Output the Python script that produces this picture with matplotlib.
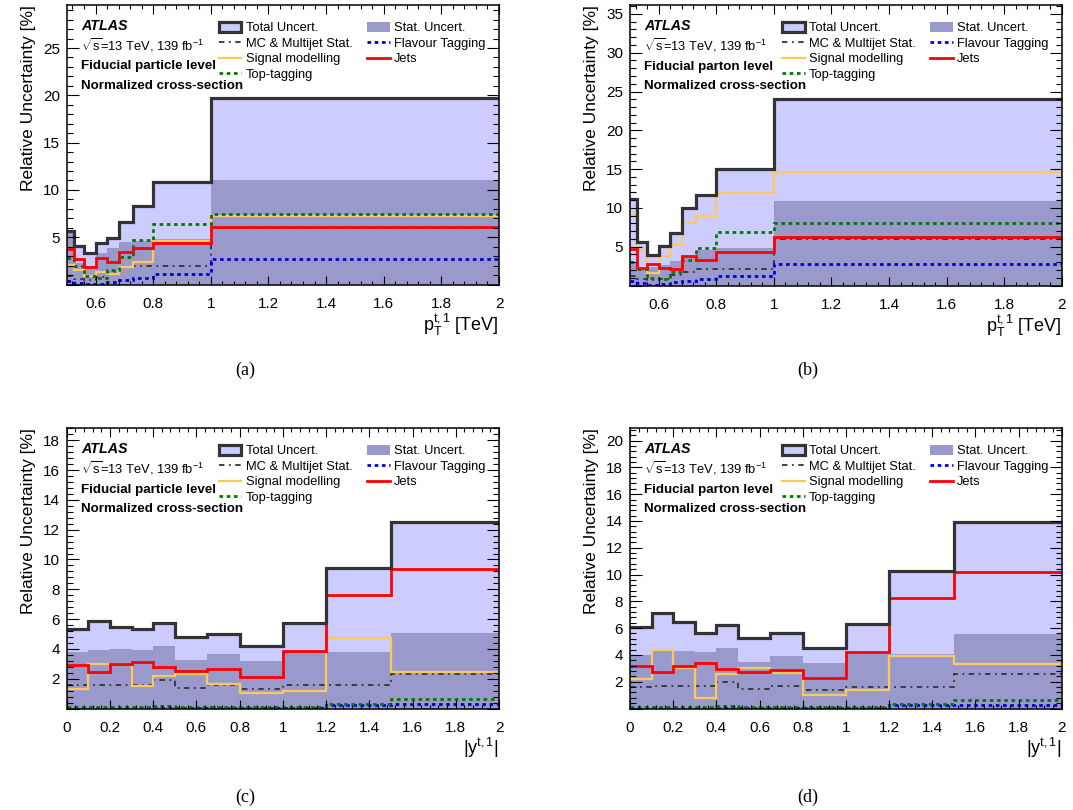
import matplotlib
matplotlib.use('Agg')
import matplotlib.pyplot as plt
from matplotlib.ticker import MultipleLocator, FuncFormatter
from matplotlib.patches import Patch
from matplotlib.lines import Line2D

plt.rcParams['font.family'] = ['Liberation Sans', 'DejaVu Sans']
plt.rcParams['mathtext.fontset'] = 'custom'
plt.rcParams['mathtext.rm'] = 'Liberation Sans'
plt.rcParams['mathtext.it'] = 'Liberation Sans:italic'
plt.rcParams['mathtext.bf'] = 'Liberation Sans:bold'

# ---------------- data ----------------
pt_edges = [0.5, 0.525, 0.56, 0.6, 0.64, 0.68, 0.73, 0.8, 1.0, 2.0]
y_edges = [0, 0.1, 0.2, 0.3, 0.4, 0.5, 0.65, 0.8, 1.0, 1.2, 1.5, 2.0]

a_total = [5.7, 4.05, 3.35, 4.4, 4.9, 6.6, 8.35, 10.8, 19.7]
a_stat = [5.4, 2.3, 2.0, 3.3, 3.9, 4.5, 4.6, 4.8, 11.1]
a_mc = [0.9, 0.6, 0.5, 0.8, 1.3, 1.8, 2.0, 2.0, 6.0]
a_signal = [2.05, 1.5, 0.9, 1.35, 1.15, 1.9, 2.4, 4.6, 7.25]
a_toptag = [2.8, 2.0, 0.9, 0.7, 1.5, 2.95, 4.7, 6.35, 7.5]
a_flavour = [0.4, 0.2, 0.05, 0.1, 0.3, 0.5, 0.65, 1.1, 2.7]
a_jets = [3.75, 2.7, 1.9, 2.85, 2.35, 3.45, 3.9, 4.4, 6.1]

b_total = [11.2, 5.55, 3.9, 5.05, 6.8, 10.0, 11.6, 15.0, 24.1]
b_stat = [2.9, 2.3, 2.4, 2.7, 3.2, 3.8, 4.6, 4.8, 10.9]
b_mc = [1.2, 0.8, 0.7, 0.9, 1.3, 1.8, 2.1, 2.1, 6.0]
b_signal = [9.1, 4.6, 1.65, 3.75, 5.25, 8.1, 9.0, 11.9, 14.6]
b_toptag = [3.0, 2.15, 1.0, 0.85, 1.8, 3.3, 4.85, 6.9, 8.0]
b_flavour = [0.55, 0.3, 0.1, 0.2, 0.4, 0.6, 0.85, 1.2, 2.8]
b_jets = [4.7, 2.2, 2.75, 2.3, 2.1, 3.75, 3.3, 4.35, 6.2]

c_total = [5.33, 5.85, 5.45, 5.36, 5.71, 4.77, 5.03, 4.21, 5.77, 9.44, 12.55]
c_stat = [3.77, 3.9, 4.0, 3.93, 4.2, 3.26, 3.66, 3.2, 3.88, 3.77, 5.09]
c_mc = [1.55, 1.6, 1.6, 1.55, 1.9, 1.4, 1.55, 1.3, 1.55, 1.55, 2.3]
c_signal = [1.34, 2.97, 2.97, 1.52, 2.19, 2.34, 1.65, 1.03, 1.18, 4.7, 2.43]
c_toptag = [0.1, 0.1, 0.1, 0.1, 0.15, 0.1, 0.1, 0.1, 0.1, 0.3, 0.65]
c_flavour = [0.05, 0.05, 0.05, 0.05, 0.05, 0.05, 0.05, 0.05, 0.05, 0.25, 0.3]
c_jets = [2.92, 2.48, 2.99, 3.13, 2.77, 2.54, 2.68, 2.14, 3.88, 7.6, 9.33]

d_total = [6.07, 7.14, 6.49, 5.64, 6.26, 5.24, 5.64, 4.52, 6.31, 10.3, 13.96]
d_stat = [4.02, 4.32, 4.27, 4.22, 4.5, 3.5, 3.92, 3.42, 4.07, 4.07, 5.57]
d_mc = [1.58, 1.7, 1.7, 1.7, 2.0, 1.46, 1.68, 1.4, 1.63, 1.63, 2.58]
d_signal = [2.2, 4.4, 3.03, 0.76, 2.58, 3.05, 2.65, 1.0, 1.38, 3.92, 3.3]
d_toptag = [0.1, 0.1, 0.1, 0.1, 0.15, 0.1, 0.1, 0.1, 0.1, 0.3, 0.65]
d_flavour = [0.05, 0.05, 0.05, 0.05, 0.05, 0.05, 0.05, 0.05, 0.05, 0.25, 0.27]
d_jets = [3.15, 2.7, 3.2, 3.37, 2.98, 2.75, 2.88, 2.3, 4.2, 8.26, 10.2]

legend_labels = ['Total Uncert.', 'MC & Multijet Stat.', 'Signal modelling', 'Top-tagging',
                 'Stat. Uncert.', 'Flavour Tagging', 'Jets']
level_labels = ['Fiducial particle level', 'Fiducial parton level',
                'Fiducial particle level', 'Fiducial parton level']
captions = ['(a)', '(b)', '(c)', '(d)']
xlabel_pt = r'$\mathrm{p}_{\mathrm{T}}^{\mathrm{t,1}}$ [TeV]'
xlabel_y = r'$\mathrm{|y^{t,1}|}$'
ylabel = 'Relative Uncertainty [%]'

# ---------------- styles ----------------
C_TOTAL = '#ccccff'
C_STAT = '#9999cc'
C_EDGE = '#333333'
ST_MC = dict(color='#333333', lw=1.3, linestyle=(0, (3, 2.5, 1, 2.5)))
ST_SIG = dict(color='#ffc85a', lw=1.6, linestyle='-')
ST_TOP = dict(color='#007a00', lw=2.0, linestyle=(0, (1.3, 1.3)))
ST_FLAV = dict(color='#0000dd', lw=2.0, linestyle=(0, (1.3, 1.3)))
ST_JETS = dict(color='#ff0000', lw=2.0, linestyle='-')

fig = plt.figure(figsize=(10.73, 8.10), dpi=100)
W, H = 1073.0, 810.0


def ax_at(x0, y0, x1, y1):
    return fig.add_axes([x0 / W, 1 - y1 / H, (x1 - x0) / W, (y1 - y0) / H])


panels = [
    (ax_at(66.7, 5, 499, 284.5), pt_edges, a_total, a_stat, a_mc, a_signal, a_toptag, a_flavour, a_jets, xlabel_pt, 5),
    (ax_at(630, 5, 1061.7, 285.5), pt_edges, b_total, b_stat, b_mc, b_signal, b_toptag, b_flavour, b_jets, xlabel_pt, 5),
    (ax_at(66.7, 428, 499, 708.5), y_edges, c_total, c_stat, c_mc, c_signal, c_toptag, c_flavour, c_jets, xlabel_y, 2),
    (ax_at(630, 428, 1061.7, 708.5), y_edges, d_total, d_stat, d_mc, d_signal, d_toptag, d_flavour, d_jets, xlabel_y, 2),
]

caption_pos = [(245, 370), (808, 370), (245, 797), (808, 797)]


def fmt(v, pos):
    if abs(v) < 1e-9:
        return '0'
    return f'{v:g}'


def yfmt(v, pos):
    if abs(v) < 1e-9:
        return ''
    return f'{v:g}'


for i, (ax, edges, tot, st, mc, sig, top, flav, jets, xl, ymaj) in enumerate(panels):
    ax.stairs(tot, edges, fill=True, color=C_TOTAL, lw=0)
    ax.stairs(st, edges, fill=True, color=C_STAT, lw=0)
    ax.stairs(mc, edges, baseline=None, **ST_MC)
    ax.stairs(flav, edges, baseline=None, **ST_FLAV)
    ax.stairs(sig, edges, baseline=None, **ST_SIG)
    ax.stairs(top, edges, baseline=None, **ST_TOP)
    ax.stairs(jets, edges, baseline=None, **ST_JETS)
    ax.stairs(tot, edges, baseline=None, color=C_EDGE, lw=2.3)

    ax.set_xlim(edges[0], edges[-1])
    ax.set_ylim(0, 1.5 * max(tot))
    ax.xaxis.set_major_locator(MultipleLocator(0.2))
    ax.xaxis.set_minor_locator(MultipleLocator(0.04))
    ax.yaxis.set_major_locator(MultipleLocator(ymaj))
    ax.yaxis.set_minor_locator(MultipleLocator(ymaj / 5))
    ax.xaxis.set_major_formatter(FuncFormatter(fmt))
    ax.yaxis.set_major_formatter(FuncFormatter(yfmt))
    ax.tick_params(which='both', direction='in', top=True, right=True, width=0.8, colors='black')
    ax.tick_params(axis='y', which='major', length=8.6, pad=5, labelsize=11)
    ax.tick_params(axis='y', which='minor', length=4.3)
    ax.tick_params(axis='x', which='major', length=6.5, pad=9, labelsize=11)
    ax.tick_params(axis='x', which='minor', length=3.2)
    for sp in ax.spines.values():
        sp.set_linewidth(1.1)
        sp.set_zorder(5)

    ax.set_ylabel(ylabel, loc='top', fontsize=12.5)
    ax.yaxis.set_label_coords(-0.072, 1.0)
    ax.set_xlabel(xl, loc='right', fontsize=13)
    ax.xaxis.set_label_coords(1.0, -0.097)

    ax.text(0.033, 0.926, 'ATLAS', transform=ax.transAxes, fontsize=10.3,
            fontweight='bold', fontstyle='italic', va='center')
    ax.text(0.033, 0.856, r'$\sqrt{\mathrm{s}}$=13 TeV, 139 fb$^{-1}$', transform=ax.transAxes,
            fontsize=9.3, va='center')
    ax.text(0.033, 0.780, level_labels[i], transform=ax.transAxes, fontsize=9.6,
            fontweight='bold', va='center')
    ax.text(0.033, 0.710, 'Normalized cross-section', transform=ax.transAxes, fontsize=9.6,
            fontweight='bold', va='center')

    handles = [
        Patch(facecolor=C_TOTAL, edgecolor=C_EDGE, linewidth=2.3),
        Line2D([], [], **ST_MC),
        Line2D([], [], **ST_SIG),
        Line2D([], [], **ST_TOP),
        Patch(facecolor=C_STAT, edgecolor='none'),
        Line2D([], [], **ST_FLAV),
        Line2D([], [], **ST_JETS),
    ]
    ax.legend(handles, legend_labels, ncol=2, loc='upper left', bbox_to_anchor=(0.352, 0.94),
              frameon=False, fontsize=9.3, handlelength=1.75, handleheight=0.85,
              handletextpad=0.35, columnspacing=1.1, labelspacing=0.22,
              borderpad=0, borderaxespad=0)

    cx, cy = caption_pos[i]
    fig.text(cx / W, 1 - cy / H, captions[i], ha='center', va='center', fontsize=13,
             family='Liberation Serif')

fig.savefig('out.png', dpi=100)
